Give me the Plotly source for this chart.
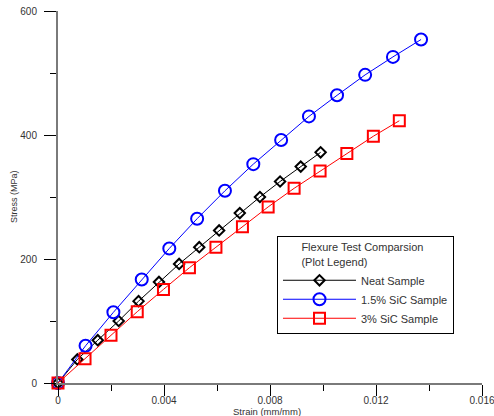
import plotly.graph_objects as go

# ---- data ----
neat_strain = [0, 0.00073, 0.00150, 0.00229, 0.00304, 0.00381, 0.00457, 0.00533,
               0.00608, 0.00686, 0.00762, 0.00838, 0.00916, 0.00991]
neat_stress = [0, 38, 69, 100, 132, 163, 192, 219, 246, 274, 300, 325, 349, 372]

sic15_strain = [0, 0.00104, 0.00209, 0.00316, 0.00420, 0.00525, 0.00630, 0.00737,
                0.00842, 0.00947, 0.01053, 0.01159, 0.01264, 0.01370]
sic15_stress = [0, 60, 114, 167, 217, 265, 310, 353, 392, 430, 464, 497, 526, 554]

sic3_strain = [0, 0.00102, 0.00200, 0.00299, 0.00398, 0.00496, 0.00596, 0.00696,
               0.00793, 0.00891, 0.00989, 0.01090, 0.01190, 0.01288]
sic3_stress = [0, 39, 77, 115, 151, 186, 219, 252, 284, 314, 342, 370, 398, 423]

series_names = ["Neat Sample", "1.5% SiC Sample", "3% SiC Sample"]
x_title = "Strain (mm/mm)"
y_title = "Stress (MPa)"

FONT = "Liberation Sans, Arial, sans-serif"
TXT = "#333333"

fig = go.Figure()
fig.add_trace(go.Scatter(
    x=neat_strain, y=neat_stress, name=series_names[0], mode="lines+markers",
    line=dict(color="black", width=1),
    marker=dict(symbol="diamond-open", size=8, color="black", line=dict(width=2, color="black")),
    cliponaxis=False))
fig.add_trace(go.Scatter(
    x=sic15_strain, y=sic15_stress, name=series_names[1], mode="lines+markers",
    line=dict(color="#0000ff", width=1),
    marker=dict(symbol="circle-open", size=12, color="#0000ff", line=dict(width=2, color="#0000ff")),
    cliponaxis=False))
fig.add_trace(go.Scatter(
    x=sic3_strain, y=sic3_stress, name=series_names[2], mode="lines+markers",
    line=dict(color="#ff0000", width=1),
    marker=dict(symbol="square-open", size=11, color="#ff0000", line=dict(width=2, color="#ff0000")),
    cliponaxis=False))

nb = "\u00a0" * 7
fig.update_layout(
    width=494, height=416,
    margin=dict(l=58, r=12, t=11, b=33, autoexpand=False),
    paper_bgcolor="white", plot_bgcolor="white",
    font=dict(family=FONT, color=TXT, size=10),
    showlegend=True,
    legend=dict(
        x=0.5165, y=0.263, xanchor="left", yanchor="middle",
        bgcolor="white", bordercolor="black", borderwidth=1,
        font=dict(family=FONT, size=11, color=TXT),
        title=dict(text=nb + "Flexure Test Comparsion<br>" + nb + "(Plot Legend)",
                   font=dict(family=FONT, size=11, color=TXT), side="top"),
        itemwidth=73,
        traceorder="normal",
    ),
    xaxis=dict(
        range=[0, 0.016], dtick=0.004, tick0=0, automargin=False,
        showgrid=False, zeroline=False,
        showline=True, linecolor="#7a7a7a", linewidth=2,
        ticks="outside", ticklen=11, tickwidth=1, tickcolor="black",
        minor=dict(dtick=0.002, ticks="outside", ticklen=6, tickwidth=1, tickcolor="black"),
        tickfont=dict(family=FONT, size=10, color=TXT),
        ticklabelstandoff=-4, ticklabeloverflow="allow",
    ),
    yaxis=dict(
        range=[0, 600], dtick=200, tick0=0, automargin=False,
        showgrid=False, zeroline=False,
        showline=True, linecolor="#7a7a7a", linewidth=2,
        ticks="outside", ticklen=12, tickwidth=1, tickcolor="black",
        minor=dict(dtick=100, ticks="outside", ticklen=6, tickwidth=1, tickcolor="black"),
        tickfont=dict(family=FONT, size=10, color=TXT),
        ticklabelstandoff=5, ticklabeloverflow="allow",
    ),
    annotations=[
        dict(text=x_title, xref="paper", yref="paper", x=0.4925, y=0, yshift=-28,
             xanchor="center", yanchor="middle", showarrow=False,
             font=dict(family=FONT, size=9.5, color=TXT)),
        dict(text=y_title, xref="paper", yref="paper", x=0, y=0.5, xshift=-44,
             xanchor="center", yanchor="middle", textangle=-90, showarrow=False,
             font=dict(family=FONT, size=9, color=TXT)),
    ],
)

# remove the page's default body margin so the figure fills the window exactly
fig.write_html("out.html",
               config={"displayModeBar": False},
               post_script="document.body.style.margin='0px';document.body.style.overflow='hidden';")
